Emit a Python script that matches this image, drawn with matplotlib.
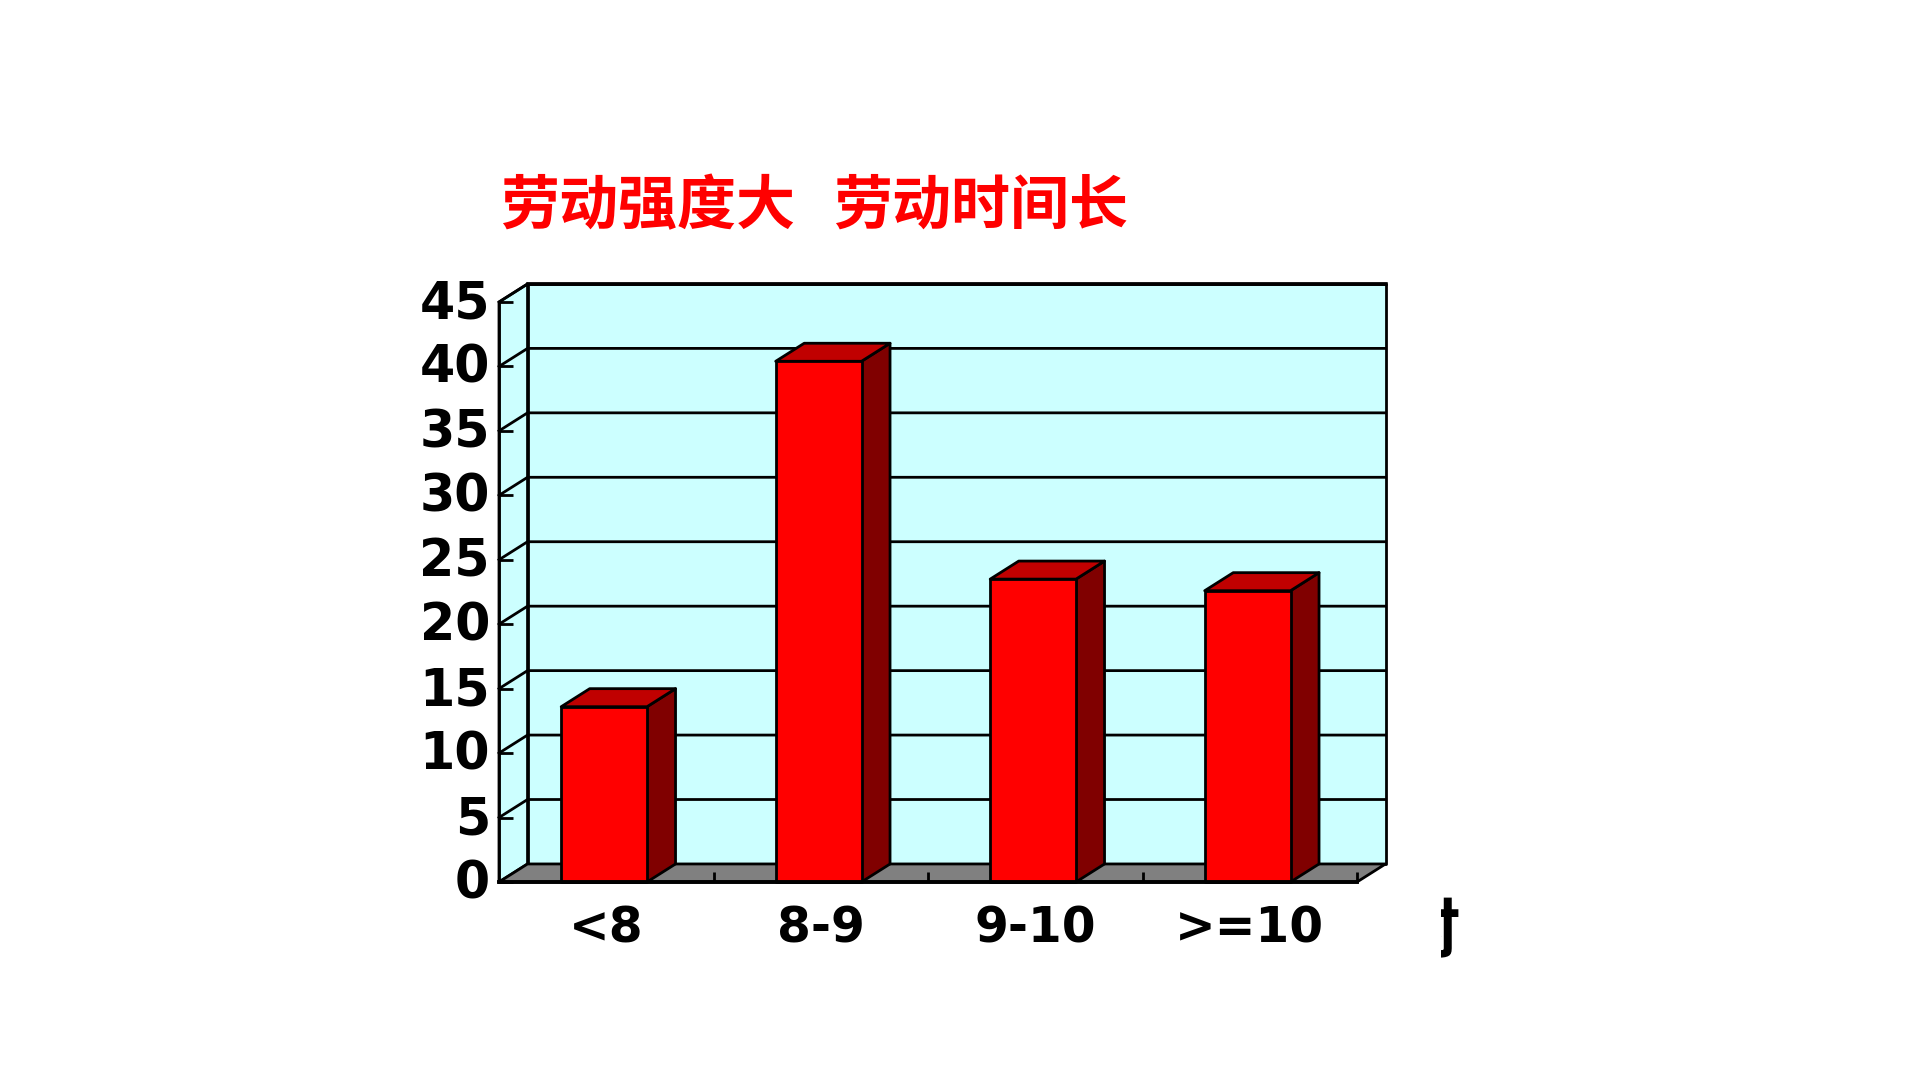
import matplotlib
matplotlib.use('Agg')
import matplotlib.pyplot as plt
from matplotlib.patches import Polygon
from matplotlib.transforms import Bbox, ScaledTranslation

# data
categories = ['<8', '8-9', '9-10', '>=10']
values = [13.6, 40.4, 23.5, 22.6]
y_ticks = [0, 5, 10, 15, 20, 25, 30, 35, 40, 45]

title_left = '劳动强度大'
title_right = '劳动时间长'
unit_text = '时'

CJK = ['Noto Sans CJK SC', 'DejaVu Sans']
LW = 2.0
dx = 0.133   # depth of the box in x data units
dy = 1.4     # depth of the box in y data units
bar_w = 0.40

fig = plt.figure(figsize=(19.2, 10.8), dpi=100, facecolor='white')
ax = fig.add_axes([499 / 1920, 1 - 882 / 1080, (1363 - 499 - 6) / 1920, (882 - 302) / 1080])
ax.set_xlim(0, 4)
ax.set_ylim(0, 45)
ax.patch.set_visible(False)


def poly(pts, color, z):
    ax.add_patch(Polygon(pts, closed=True, facecolor=color, edgecolor='black',
                         linewidth=LW, joinstyle='round', zorder=z, clip_on=False))


# walls and floor
poly([(dx, dy), (4 + dx, dy), (4 + dx, 45 + dy), (dx, 45 + dy)], '#CCFFFF', 1)
poly([(0, 0), (dx, dy), (dx, 45 + dy), (0, 45)], '#CCFFFF', 1)
poly([(0, 0), (4, 0), (4 + dx, dy), (dx, dy)], '#808080', 1)
ax.plot([dx, 4 + dx], [45 + dy, 45 + dy], color='black', lw=2.6, zorder=2, clip_on=False)

# gridlines on the back wall and the side wall
for t in y_ticks[1:]:
    ax.plot([0, dx, 4 + dx], [t, t + dy, t + dy], color='black', lw=LW, zorder=2, clip_on=False)

# bars
for i, v in enumerate(values):
    x0 = i + 0.49 - bar_w / 2
    x1 = i + 0.49 + bar_w / 2
    poly([(x1, 0), (x1 + dx, dy), (x1 + dx, v + dy), (x1, v)], '#800000', 3)
    poly([(x0, v), (x1, v), (x1 + dx, v + dy), (x0 + dx, v + dy)], '#C00000', 3)
    poly([(x0, 0), (x1, 0), (x1, v), (x0, v)], '#FF0000', 4)

# axes
for s in ['top', 'right']:
    ax.spines[s].set_visible(False)
for s in ['left', 'bottom']:
    ax.spines[s].set_linewidth(LW)
    ax.spines[s].set_zorder(5)
ax.spines['bottom'].set_linewidth(2.8)

ax.set_yticks(y_ticks)
ax.set_yticklabels([str(t) for t in y_ticks], fontsize=36.5, fontweight='bold', family='DejaVu Sans')
ax.tick_params(axis='y', direction='in', length=10, width=LW, pad=6.5)
for lab in ax.get_yticklabels():
    lab.set_transform(lab.get_transform() + ScaledTranslation(0, 3 / 100, fig.dpi_scale_trans))

ax.set_xticks([1, 2, 3, 4])
ax.set_xticklabels([])
ax.tick_params(axis='x', which='major', direction='in', length=7, width=LW)
ax.set_xticks([0.5, 1.5, 2.5, 3.5], minor=True)
ax.set_xticklabels(categories, minor=True, fontsize=35, fontweight='bold', family='DejaVu Sans')
ax.tick_params(axis='x', which='minor', length=0, pad=16)

# title and the cut off unit label
fig.text(500.5 / 1920, 1 - 207 / 1080, title_left, color='#FF0000', fontsize=42.5,
         fontweight='bold', family=CJK, ha='left', va='center')
fig.text(833 / 1920, 1 - 207 / 1080, title_right, color='#FF0000', fontsize=42.5,
         fontweight='bold', family=CJK, ha='left', va='center')
unit = fig.text(1460 / 1920, 1 - 934 / 1080, unit_text, color='black', fontsize=47,
                fontweight='bold', family=CJK, ha='right', va='center')
unit.set_clip_on(True)
unit.set_clip_box(Bbox([[1441, 0], [1920, 1080]]))

fig.savefig('out.png', dpi=100)
